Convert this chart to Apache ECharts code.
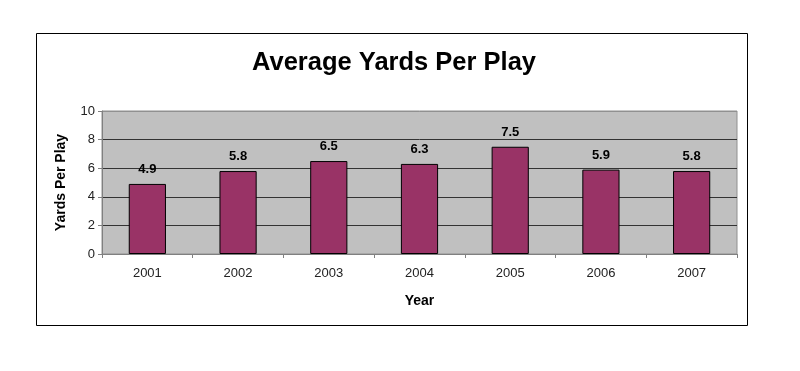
<!DOCTYPE html>
<html><head><meta charset="utf-8">
<script src="https://cdn.jsdelivr.net/npm/echarts@6/dist/echarts.min.js"></script>
<style>html,body{margin:0;padding:0;background:#fff}#c{width:800px;height:371px}</style>
</head><body><div id="c"></div>
<script>
const years = ['2001','2002','2003','2004','2005','2006','2007'];
const yardsPerPlay = [4.9, 5.8, 6.5, 6.3, 7.5, 5.9, 5.8];
const yTicks = [0, 2, 4, 6, 8, 10];

const F = 'Arial, "Liberation Sans", sans-serif';
const chart = echarts.init(document.getElementById('c'));
chart.setOption({
  animation: false,
  backgroundColor: '#fff',
  title: {
    text: 'Average Yards Per Play', left: 389, textAlign: 'center', top: 45,
    textStyle: {fontFamily: F, fontSize: 25.5, fontWeight: 'bold', color: '#000'}
  },
  graphic: [{
    type: 'rect', shape: {x: 36.5, y: 33.5, width: 711, height: 292},
    style: {fill: 'none', stroke: '#000', lineWidth: 1}, silent: true, z: -1
  }],
  grid: {left: 102, right: 63, top: 111, bottom: 117, show: true, backgroundColor: '#c0c0c0', borderWidth: 1, borderColor: '#909090'},
  xAxis: {
    type: 'category', data: years,
    name: 'Year', nameLocation: 'middle', nameGap: 40,
    nameTextStyle: {fontFamily: F, fontSize: 14, fontWeight: 'bold', color: '#000'},
    axisLine: {lineStyle: {color: '#808080'}},
    axisTick: {show: true, length: 4, lineStyle: {color: '#808080'}},
    axisLabel: {fontFamily: F, fontSize: 13, color: '#222', margin: 13}
  },
  yAxis: {
    type: 'value', min: 0, max: 10, interval: 2,
    name: 'Yards Per Play', nameLocation: 'middle', nameGap: 34, nameRotate: 90,
    nameTextStyle: {fontFamily: F, fontSize: 14, fontWeight: 'bold', color: '#000'},
    axisLine: {show: true, lineStyle: {color: '#808080'}},
    axisTick: {show: true, length: 4, lineStyle: {color: '#808080'}},
    axisLabel: {fontFamily: F, fontSize: 13, color: '#222', margin: 7,
      formatter: v => yTicks.includes(v) ? String(v) : ''},
    splitLine: {show: true, lineStyle: {color: ['#808080', '#333', '#333', '#333', '#333', '#909090'], width: 1}}
  },
  series: [{
    type: 'bar', data: yardsPerPlay, barWidth: '41%',
    itemStyle: {color: '#993366', borderColor: '#000', borderWidth: 1},
    label: {show: true, position: 'top', distance: 8, formatter: p => p.value.toFixed(1),
      fontFamily: F, fontSize: 13, fontWeight: 'bold', color: '#000'}
  }]
});
</script></body></html>
